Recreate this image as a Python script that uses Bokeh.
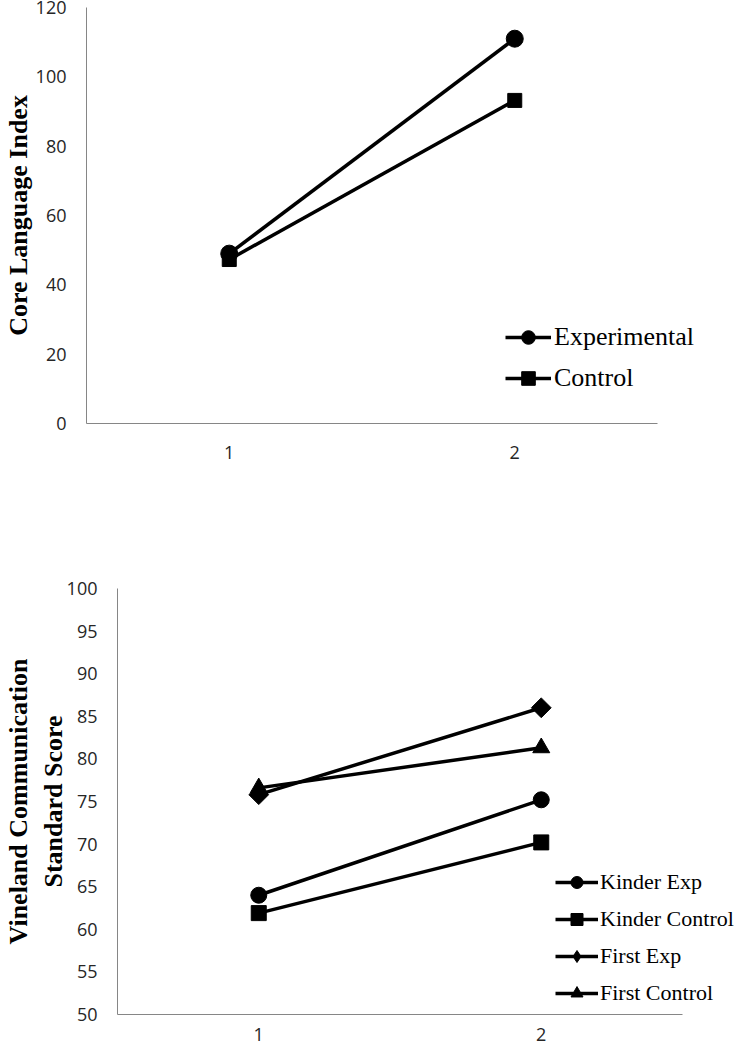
from bokeh.plotting import figure
from bokeh.models import Range1d, FixedTicker, Legend, LegendItem
from bokeh.embed import file_html
from bokeh.resources import INLINE

# ---- data ----
time_points = [1, 2]
time_labels = {1: "1", 2: "2"}

core_exp = [49.0, 111.0]
core_ctrl = [47.3, 93.2]
core_ticks = [0, 20, 40, 60, 80, 100, 120]

vin_kinder_exp = [64.0, 75.2]
vin_kinder_ctrl = [61.9, 70.2]
vin_first_exp = [75.8, 86.0]
vin_first_ctrl = [76.6, 81.3]
vin_ticks = [50, 55, 60, 65, 70, 75, 80, 85, 90, 95, 100]

AXIS_GREY = "#868686"
TICK_FONT = "Open Sans"
SERIF = "Liberation Serif"
PAGE_W = 737
NAN = float("nan")


def style(p, ticks, ylabel, tick_standoff_x, label_standoff_y):
    p.outline_line_color = None
    p.xgrid.visible = False
    p.ygrid.visible = False
    p.background_fill_color = "white"
    p.border_fill_color = "white"
    for ax in (p.xaxis[0], p.yaxis[0]):
        ax.axis_line_color = AXIS_GREY
        ax.axis_line_width = 1
        ax.major_tick_line_color = None
        ax.minor_tick_line_color = None
        ax.major_tick_out = 0
        ax.major_tick_in = 0
        ax.major_label_text_font = TICK_FONT
        ax.major_label_text_font_size = "18px"
        ax.major_label_text_color = "#262626"
    p.xaxis[0].ticker = FixedTicker(ticks=time_points)
    p.xaxis[0].major_label_overrides = time_labels
    p.xaxis[0].bounds = (0.5, 2.5)
    p.yaxis[0].ticker = FixedTicker(ticks=ticks)
    p.yaxis[0].major_label_standoff = 20
    p.xaxis[0].major_label_standoff = tick_standoff_x
    p.yaxis[0].axis_label = ylabel
    p.yaxis[0].axis_label_text_font = SERIF
    p.yaxis[0].axis_label_text_font_style = "bold"
    p.yaxis[0].axis_label_text_font_size = "26px"
    p.yaxis[0].axis_label_text_color = "black"
    p.yaxis[0].axis_label_standoff = label_standoff_y


def series(p, y, marker, size, angle=0.0):
    ln = p.line(x=time_points, y=y, line_width=3.5, line_color="black")
    sc = p.scatter(x=time_points, y=y, marker=marker, size=size, angle=angle,
                   fill_color="black", line_color="black")
    return [ln, sc]


# ---- top chart ----
# frame starts 86 px from the left; axis covers 0.5..2.5 over 571 px
L1 = 86
p1 = figure(width=PAGE_W, height=470,
            x_range=Range1d(0.5, 0.5 + (PAGE_W - L1) / 285.5),
            y_range=Range1d(0, 120),
            min_border_left=L1, min_border_right=0,
            min_border_top=7, min_border_bottom=47,
            output_backend="svg", toolbar_location=None)
style(p1, core_ticks, "Core Language Index", 22, 0)
r_exp = series(p1, core_exp, "circle", 17)
r_ctrl = series(p1, core_ctrl, "square", 14)
leg1 = Legend(items=[LegendItem(label="Experimental", renderers=r_exp),
                     LegendItem(label="Control", renderers=r_ctrl)],
              location=(419, 28), orientation="vertical",
              glyph_width=46, glyph_height=34, label_height=34,
              label_standoff=3, spacing=7, padding=0, margin=0,
              border_line_alpha=0, background_fill_alpha=0,
              label_text_font=SERIF, label_text_font_size="26px",
              label_text_color="black")
p1.add_layout(leg1)

# ---- bottom chart ----
# frame starts 117 px from the left; axis covers 0.5..2.5 over 565 px
L2 = 117
p2 = figure(width=PAGE_W, height=580,
            x_range=Range1d(0.5, 0.5 + (PAGE_W - L2) / 282.5),
            y_range=Range1d(50, 100),
            min_border_left=L2, min_border_right=0,
            min_border_top=118, min_border_bottom=36,
            output_backend="svg", toolbar_location=None)
style(p2, vin_ticks, "Vineland Communication\nStandard Score", 13, -4)
r_ke = series(p2, vin_kinder_exp, "circle", 16)
r_kc = series(p2, vin_kinder_ctrl, "square", 15)
r_fe = series(p2, vin_first_exp, "square", 14, 0.7854)
r_fc = series(p2, vin_first_ctrl, "triangle", 17)
# legend key for the diamond series (the legend does not rotate markers);
# its single point is NaN so it draws nothing in the plot area
fe_key = p2.scatter(x=[NAN], y=[NAN], marker="diamond", size=20,
                    fill_color="black", line_color="black")
leg2 = Legend(items=[LegendItem(label="Kinder Exp", renderers=r_ke),
                     LegendItem(label="Kinder Control", renderers=r_kc),
                     LegendItem(label="First Exp", renderers=[r_fe[0], fe_key]),
                     LegendItem(label="First Control", renderers=r_fc)],
              location=(438, 6), orientation="vertical",
              glyph_width=43, glyph_height=30, label_height=30,
              label_standoff=2, spacing=7, padding=0, margin=0,
              border_line_alpha=0, background_fill_alpha=0,
              label_text_font=SERIF, label_text_font_size="22px",
              label_text_color="black")
p2.add_layout(leg2)

open("out.html", "w").write(file_html([p1, p2], INLINE))
